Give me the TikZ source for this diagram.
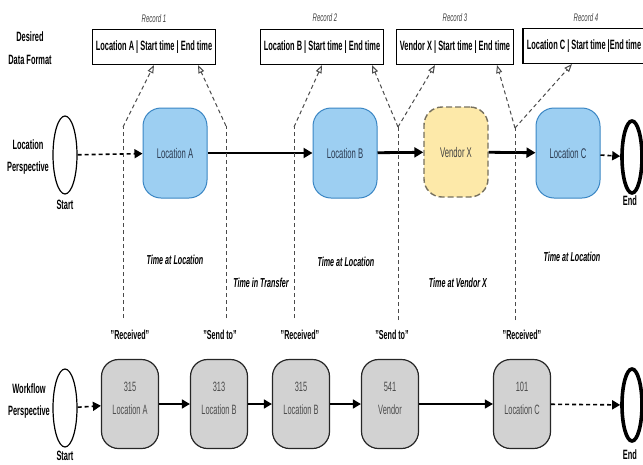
\documentclass[tikz,border=0pt]{standalone}
\usepackage{fontspec}
\setmainfont[FakeStretch=0.55]{Liberation Sans}
\usetikzlibrary{arrows.meta,shapes.geometric}

\definecolor{locfill}{HTML}{9DCFF2}
\definecolor{locborder}{HTML}{3A86C4}
\definecolor{loctext}{HTML}{2B3A50}
\definecolor{vendfill}{HTML}{FDE9A9}
\definecolor{vendborder}{HTML}{76705E}
\definecolor{wffill}{HTML}{D2D2D2}
\definecolor{guide}{HTML}{4A4A4A}

\tikzset{
  recbox/.style={draw=black, line width=1.1pt, fill=white, minimum height=35pt,
    inner xsep=3pt, font=\bfseries\fontsize{13.5}{15}\selectfont},
  reclabel/.style={text=black!75, font=\itshape\fontsize{11}{12}\selectfont},
  locbox/.style={draw=locborder, fill=locfill, line width=1pt, rounded corners=18pt,
    minimum width=64pt, minimum height=90pt, text=loctext,
    font=\fontsize{14}{16}\selectfont},
  vendbox/.style={locbox, draw=vendborder, fill=vendfill, line width=1.4pt,
    dash pattern=on 6pt off 3pt, text=black!75},
  wfbox/.style={draw=black!85, fill=wffill, line width=1.2pt, rounded corners=17pt,
    minimum width=57pt, minimum height=89pt, align=center, text=black!70,
    font=\fontsize{13.5}{23}\selectfont},
  startev/.style={ellipse, draw=black, fill=white, line width=1.2pt,
    minimum width=24pt, minimum height=78pt, inner sep=0pt},
  endev/.style={ellipse, draw=black, fill=white, line width=3.6pt,
    minimum width=20pt, minimum height=72pt, inner sep=0pt},
  sidelabel/.style={align=center, font=\bfseries\fontsize{13.5}{22.5}\selectfont},
  evlabel/.style={font=\bfseries\fontsize{13.5}{15}\selectfont},
  phase/.style={font=\bfseries\itshape\fontsize{13}{15}\selectfont},
  status/.style={font=\bfseries\fontsize{13}{15}\selectfont},
  flowthick/.style={line width=2.8pt, -{Triangle[length=9pt,width=10pt]}},
  flowthin/.style={line width=1.6pt, -{Triangle[length=8pt,width=9pt]}},
  flowdash/.style={line width=1.6pt, dash pattern=on 4pt off 3pt,
    -{Triangle[length=8pt,width=9pt]}},
  guideline/.style={draw=guide, line width=1pt, dash pattern=on 4pt off 3pt},
  recarrow/.style={guideline, -{Triangle[open,length=8pt,width=6pt]}}
}

\begin{document}
\begin{tikzpicture}[x=1pt,y=-1pt]
\useasboundingbox (0,0) rectangle (643,464);

% ---- desired records ----
\node[sidelabel] (dlab) at (30,48) {Desired\\Data Format};

\node[recbox, minimum width=122pt] (r1) at (154,47) {Location A | Start time | End time};
\node[recbox, minimum width=119pt] (r2) at (322,47) {Location B | Start time | End time};
\node[recbox, minimum width=114pt] (r3) at (455,47) {Vendor X | Start time | End time};
\node[recbox, minimum width=122pt] (r4) at (584,46) {Location C | Start time |End time};

\node[reclabel] (r1l) at (154,19) {Record 1};
\node[reclabel] (r2l) at (325,18) {Record 2};
\node[reclabel] (r3l) at (455,18) {Record 3};
\node[reclabel] (r4l) at (586,18) {Record 4};

% ---- location perspective ----
\node[sidelabel] (llab) at (28,157) {Location\\Perspective};
\node[startev] (s1) at (65,155) {};
\node[evlabel] (s1l) at (65,205) {Start};
\node[locbox] (la) at (175,153) {Location A};
\node[locbox] (lb) at (345,153) {Location B};
\node[vendbox] (vx) at (456,152) {Vendor X};
\node[locbox] (lc) at (568,153) {Location C};
\node[endev] (e1) at (632,157) {};
\node[evlabel] (e1l) at (630,201) {End};

\draw[flowdash] (s1) -- (la);
\draw[flowthick] (la) -- (lb);
\draw[flowthick] (lb) -- (vx);
\draw[flowthick] (vx) -- (lc);
\draw[flowdash] (lc) -- (e1);

% ---- time boundaries ----
\coordinate (g1t) at (123,127); \coordinate (g1b) at (123,318);
\coordinate (g2t) at (226,126); \coordinate (g2b) at (226,318);
\coordinate (g3t) at (294,127); \coordinate (g3b) at (294,318);
\coordinate (g4t) at (398,127); \coordinate (g4b) at (398,320);
\coordinate (g5t) at (515,128); \coordinate (g5b) at (515,320);

\draw[guideline] (g1b) -- (g1t);
\draw[guideline] (g2b) -- (g2t);
\draw[guideline] (g3b) -- (g3t);
\draw[guideline] (g4b) -- (g4t);
\draw[guideline] (g5b) -- (g5t);

\draw[recarrow] (g1t) -- ([xshift=0pt]r1.south);
\draw[recarrow] (g2t) -- ([xshift=44pt]r1.south);
\draw[recarrow] (g3t) -- ([xshift=0pt]r2.south);
\draw[recarrow] (g4t) -- ([xshift=50pt]r2.south);
\draw[recarrow] (g4t) -- ([xshift=-20pt]r3.south);
\draw[recarrow] (g5t) -- ([xshift=42pt]r3.south);
\draw[recarrow] (g5t) -- ([xshift=-12pt]r4.south);

\node[phase] (p1) at (175,260) {Time at Location};
\node[phase] (p2) at (261,283) {Time in Transfer};
\node[phase] (p3) at (346,262) {Time at Location};
\node[phase] (p4) at (458,283) {Time at Vendor X};
\node[phase] (p5) at (572,257) {Time at Location};

% ---- workflow perspective ----
\node[status] (st1) at (130,335) {"Received"};
\node[status] (st2) at (220,335) {"Send to"};
\node[status] (st3) at (300,335) {"Received"};
\node[status] (st4) at (392,335) {"Send to"};
\node[status] (st5) at (522,335) {"Received"};

\node[sidelabel] (wlab) at (29,401) {Workflow\\Perspective};
\node[startev] (s2) at (65,408) {};
\node[evlabel] (s2l) at (65,456) {Start};
\node[wfbox] (w1) at (130,404) {315\\Location A\\[-11pt]};
\node[wfbox] (w2) at (219,404) {313\\Location B\\[-11pt]};
\node[wfbox] (w3) at (301,404) {315\\Location B\\[-11pt]};
\node[wfbox] (w4) at (390,404) {541\\Vendor\\[-11pt]};
\node[wfbox] (w5) at (522,404) {101\\Location C\\[-11pt]};
\node[endev] (e2) at (632,405) {};
\node[evlabel] (e2l) at (630,455) {End};

\draw[flowdash] (s2) -- (w1);
\draw[flowthin] (w1) -- (w2);
\draw[flowthin] (w2) -- (w3);
\draw[flowthin] (w3) -- (w4);
\draw[flowthin, line width=1.2pt] (w4) -- (w5);
\draw[flowdash] (w5) -- (e2);
\end{tikzpicture}
\end{document}
